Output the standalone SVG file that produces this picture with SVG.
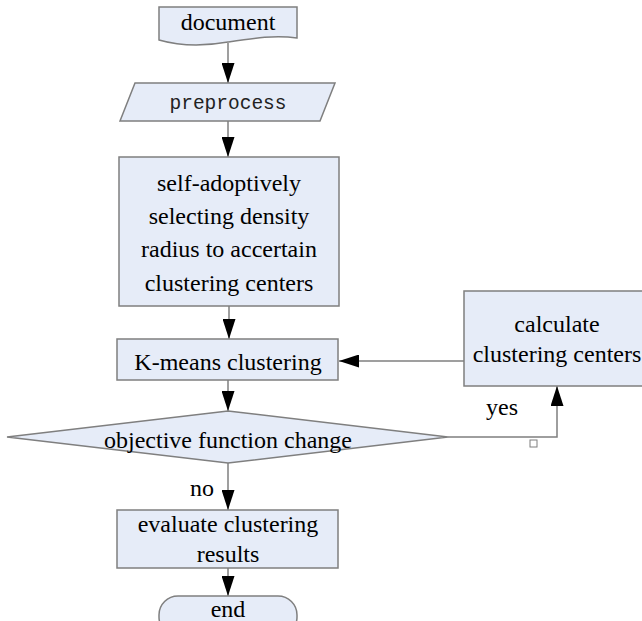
<svg xmlns="http://www.w3.org/2000/svg" width="642" height="621" viewBox="0 0 642 621">
<defs>
<style>
.shape{fill:#e6ecf8;stroke:#7f7f7f;stroke-width:1.5}
.line{fill:none;stroke:#7f7f7f;stroke-width:1.5}
.t{font-size:24px;fill:#000;text-anchor:middle}
.m{font-size:19.5px;fill:#222;text-anchor:middle}
</style>
<marker id="arr" markerUnits="userSpaceOnUse" markerWidth="20" markerHeight="13" refX="20" refY="6.5" viewBox="0 0 20 13" orient="auto">
<path d="M0,0 L20,6.5 L0,13 Z" fill="#000"/>
</marker>
</defs>
<rect width="642" height="621" fill="#fff"/>
<g id="connectors">
<path class="line" d="M228,43 V83" marker-end="url(#arr)"/>
<path class="line" d="M228,121 V157" marker-end="url(#arr)"/>
<path class="line" d="M229,306 V339" marker-end="url(#arr)"/>
<path class="line" d="M228,380 V411" marker-end="url(#arr)"/>
<path class="line" d="M448,437 H557 V386" marker-end="url(#arr)"/>
<path class="line" d="M464,361 H339" marker-end="url(#arr)"/>
<path class="line" d="M228,463 V510" marker-end="url(#arr)"/>
<path class="line" d="M228,568 V596" marker-end="url(#arr)"/>
</g>
<g font-family="Liberation Serif, DejaVu Serif, Noto Serif, serif">
<g id="document">
<path class="shape" d="M159,7 H297 V38 C275,35 255,38 228,42 C200,47 180,46 159,40 Z"/>
<text class="t" x="228" y="30">document</text>
</g>
<g id="preprocess">
<path class="shape" d="M135,83 H335 L320,121 H120 Z"/>
<text class="m" x="228" y="109" font-family="Liberation Mono, DejaVu Sans Mono, monospace">preprocess</text>
</g>
<g id="select">
<rect class="shape" x="119" y="157" width="220" height="149"/>
<text class="t" x="229" y="191">self-adoptively</text>
<text class="t" x="229" y="224">selecting density</text>
<text class="t" x="229" y="257">radius to accertain</text>
<text class="t" x="229" y="291">clustering centers</text>
</g>
<g id="kmeans">
<rect class="shape" x="117" y="339" width="221" height="41"/>
<text class="t" x="228" y="370">K-means clustering</text>
</g>
<g id="decision">
<path class="shape" d="M228,411 L448,437 L228,463 L7,437 Z"/>
<text class="t" x="228" y="448">objective function change</text>
</g>
<g id="calc">
<rect class="shape" x="464" y="291" width="190" height="95"/>
<text class="t" x="557" y="332">calculate</text>
<text class="t" x="557" y="362">clustering centers</text>
</g>
<g id="evaluate">
<rect class="shape" x="117" y="510" width="221" height="58"/>
<text class="t" x="228" y="532">evaluate clustering</text>
<text class="t" x="228" y="562">results</text>
</g>
<g id="end">
<rect class="shape" x="159" y="596" width="138" height="40" rx="19"/>
<text class="t" x="228" y="617">end</text>
</g>
<g id="labels">
<text class="t" x="502" y="415">yes</text>
<text class="t" x="202" y="496">no</text>
<rect x="530" y="440" width="7" height="7" fill="#fff" stroke="#7f7f7f" stroke-width="1"/>
</g>
</g>
</svg>
